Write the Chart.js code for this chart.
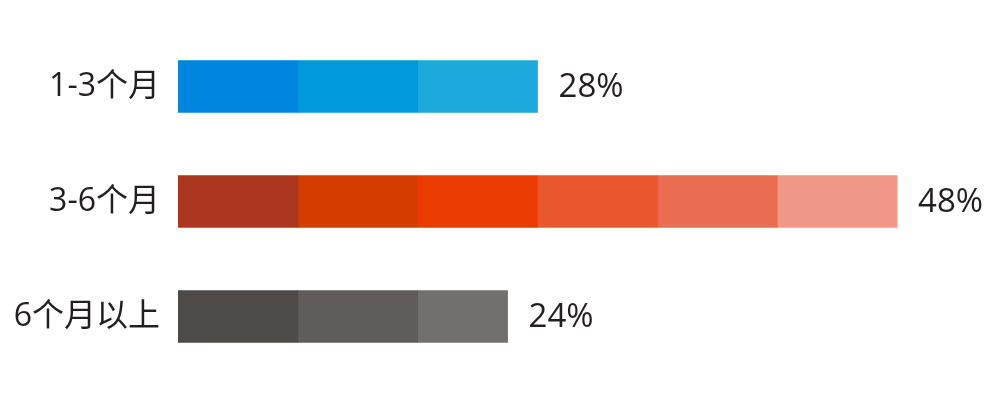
<!DOCTYPE html>
<html>
<head>
<meta charset="utf-8">
<script src="https://cdn.jsdelivr.net/npm/chart.js@4.4.0/dist/chart.umd.min.js"></script>
<style>
  html, body { margin: 0; padding: 0; background: #fff; }
  #wrap { width: 1000px; height: 400px; }
</style>
</head>
<body>
<div id="wrap"><canvas id="bar-chart"></canvas></div>
<script>
// chart data
var categories = ['1-3个月', '3-6个月', '6个月以上'];
var percentLabels = ['28%', '48%', '24%'];
// each bar is made of blocks, one block ~ 8
var blocks13 = [8, 8, 8];
var blocks36 = [8, 8, 8, 8, 8, 8];
var blocks6up = [8, 8, 6];

var blueShades = ['#0086df', '#0099da', '#1ea9dd'];
var redShades = ['#aa371e', '#d43c00', '#eb3c00', '#e9572f', '#e96d51', '#f09788'];
var grayShades = ['#4e4a48', '#605c5a', '#72706e'];

var rows = [blocks13, blocks36, blocks6up];
var shades = [blueShades, redShades, grayShades];
var datasets = [];
for (var j = 0; j < 6; j++) {
    datasets.push({
        data: rows.map(function (r) { return r[j] || 0; }),
        backgroundColor: shades.map(function (s) { return s[j] || 'transparent'; }),
        borderWidth: 0,
        barThickness: 52,
        stack: 'a'
    });
}

var valueLabels = {
    id: 'valueLabels',
    afterDatasetsDraw: function (chart) {
        var ctx = chart.ctx;
        var x = chart.scales.x, y = chart.scales.y;
        ctx.save();
        ctx.font = '33px "Open Sans", "Noto Sans CJK SC", sans-serif';
        ctx.fillStyle = '#231f20';
        ctx.textBaseline = 'middle';
        ctx.textAlign = 'left';
        rows.forEach(function (r, i) {
            var total = r.reduce(function (a, b) { return a + b; }, 0);
            ctx.fillText(percentLabels[i], x.getPixelForValue(total) + 21, y.getPixelForValue(i) + 1);
        });
        ctx.restore();
    }
};

var ctx1 = document.getElementById('bar-chart').getContext('2d');
var barChart = new Chart(ctx1, {
    type: 'bar',
    data: {
        labels: categories,
        datasets: datasets
    },
    options: {
        indexAxis: 'y',
        responsive: true,
        maintainAspectRatio: false,
        animation: false,
        layout: {
            padding: { top: 29, bottom: 25, right: 13, left: 0 }
        },
        scales: {
            x: {
                stacked: true,
                display: false,
                min: 0,
                max: 54
            },
            y: {
                stacked: true,
                grid: { display: false },
                border: { display: false },
                ticks: {
                    color: '#231f20',
                    padding: 10,
                    font: { size: 32, lineHeight: 1, family: '"Open Sans", "Noto Sans CJK SC", sans-serif' }
                },
                afterFit: function (scale) { scale.width = 178; }
            }
        },
        plugins: {
            legend: { display: false },
            tooltip: { enabled: false }
        }
    },
    plugins: [valueLabels]
});
</script>
</body>
</html>
